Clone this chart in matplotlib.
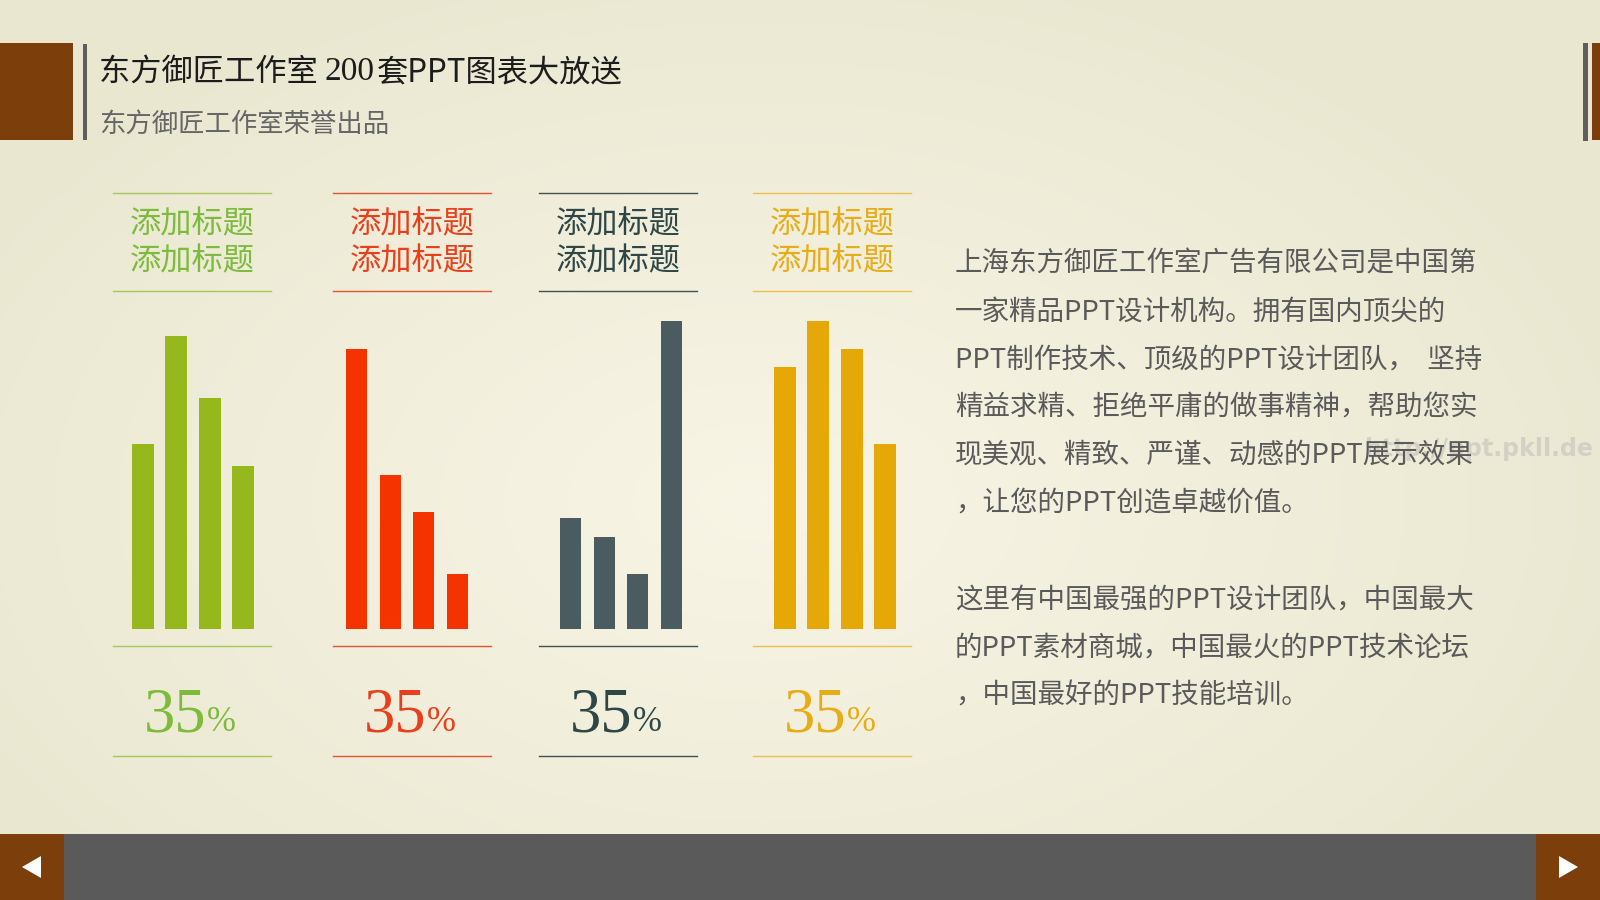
#!/usr/bin/env python3
"""Recreate the '东方御匠工作室' four-group bar slide as out.png."""

import numpy as np
import matplotlib
matplotlib.use("Agg")
import matplotlib.pyplot as plt
from matplotlib.patches import Rectangle, Polygon

plt.rcParams['font.family'] = ['Noto Sans CJK SC', 'DejaVu Sans']

# ---- data -------------------------------------------------------------
group_titles = ["添加标题", "添加标题", "添加标题", "添加标题"]
group_pcts = ["35", "35", "35", "35"]
green_vals = [60, 95, 75, 53]
red_vals = [91, 50, 38, 18]
slate_vals = [36, 30, 18, 100]
gold_vals = [85, 100, 91, 60]

title_parts = ["东方御匠工作室 ", "200", "套PPT图表大放送"]
subtitle = "东方御匠工作室荣誉出品"
para1 = [
    "上海东方御匠工作室广告有限公司是中国第",
    "一家精品PPT设计机构。拥有国内顶尖的",
    "PPT制作技术、顶级的PPT设计团队，  坚持",
    "精益求精、拒绝平庸的做事精神，帮助您实",
    "现美观、精致、严谨、动感的PPT展示效果",
    "，让您的PPT创造卓越价值。",
]
para2 = [
    "这里有中国最强的PPT设计团队，中国最大",
    "的PPT素材商城，中国最火的PPT技术论坛",
    "，中国最好的PPT技能培训。",
]

# ---- styling ----------------------------------------------------------
W, H = 1600, 900
BROWN = '#7c3e0b'
groups = [
    # values, bar colour, text colour, rule colour, left x of rules, bar shift, bar width
    (green_vals, '#97b81c', '#7dbb3c', '#a8c75a', 113, 1, 0.66),
    (red_vals, '#f43300', '#e8401c', '#e4552f', 333, -5, 0.62),
    (slate_vals, '#4b5c60', '#2e4746', '#3f5252', 539, 3, 0.63),
    (gold_vals, '#e5a806', '#e6ad18', '#ecc04e', 753, 3, 0.66),
]
GROUP_W = 158
BAR_PITCH = 33.5
BAR_BOTTOM, BAR_TOP = 629, 321

fig = plt.figure(figsize=(16, 9), dpi=100)
bg = fig.add_axes([0, 0, 1, 1])
bg.set_xlim(0, W)
bg.set_ylim(H, 0)
bg.axis('off')

# soft cream background, lighter in the middle
yy, xx = np.mgrid[0:H:4, 0:W:4]
r = np.sqrt(((xx - 760) / 900.0) ** 2 + ((yy - 500) / 560.0) ** 2)
r = np.clip(r, 0, 1)
c0 = np.array([248, 245, 230]) / 255.0
c1 = np.array([234, 231, 209]) / 255.0
img = c0[None, None, :] * (1 - r[..., None]) + c1[None, None, :] * r[..., None]
bg.imshow(img, extent=[0, W, H, 0], aspect='auto', zorder=0)

# header blocks
bg.add_patch(Rectangle((0, 43), 73, 97, facecolor=BROWN, zorder=1))
bg.add_patch(Rectangle((83, 44), 4, 96, facecolor='#5e5e5e', zorder=1))
bg.add_patch(Rectangle((1583, 43), 5, 98, facecolor='#5e5e5e', zorder=1))
bg.add_patch(Rectangle((1592, 43), 8, 97, facecolor=BROWN, zorder=1))

# title: the digits are set in a serif face, the rest in the CJK sans
renderer = fig.canvas.get_renderer()
x = 99
for k, part in enumerate(title_parts):
    fam = 'Liberation Serif' if part.isdigit() else ['Noto Sans CJK SC', 'DejaVu Sans']
    size = 24 if part.isdigit() else 22.5
    t = bg.text(x, 72, part, fontsize=size, color='#1c1c1c', va='center', ha='left',
                family=fam, zorder=2)
    bb = t.get_window_extent(renderer)
    x += bb.width + (2 if part.isdigit() else 0)
bg.text(99, 124, subtitle, fontsize=19, color='#666666', va='center', ha='left', zorder=2)

# footer bar with arrows
bg.add_patch(Rectangle((0, 834), W, 66, facecolor='#5a5a5a', zorder=1))
bg.add_patch(Rectangle((0, 834), 64, 66, facecolor=BROWN, zorder=2))
bg.add_patch(Rectangle((1536, 834), 64, 66, facecolor=BROWN, zorder=2))
bg.add_patch(Polygon([(22, 867), (41, 856), (41, 878)], facecolor='white', zorder=3))
bg.add_patch(Polygon([(1578, 867), (1559, 856), (1559, 878)], facecolor='white', zorder=3))

# four bar groups
for i, (vals, bar_c, txt_c, rule_c, x0, shift, bw) in enumerate(groups):
    cx = x0 + GROUP_W / 2
    for y in (193, 291, 646, 756):
        bg.plot([x0, x0 + GROUP_W], [y, y], color=rule_c, lw=1.0, zorder=2)
    bg.text(cx, 224, group_titles[i], fontsize=22.5, color=txt_c, ha='center', va='center', zorder=2)
    bg.text(cx, 261, group_titles[i], fontsize=22.5, color=txt_c, ha='center', va='center', zorder=2)
    bg.text(cx + 14, 731, group_pcts[i], fontsize=45, color=txt_c, ha='right', va='baseline',
            family='Liberation Serif', zorder=2)
    bg.text(cx + 15, 731, "%", fontsize=25, color=txt_c, ha='left', va='baseline',
            family='Liberation Serif', zorder=2)

    ax = fig.add_axes([(x0 + shift) / W, (H - BAR_BOTTOM) / H, GROUP_W / W,
                       (BAR_BOTTOM - BAR_TOP) / H])
    ax.patch.set_alpha(0)
    ax.axis('off')
    half = (GROUP_W / 2) / BAR_PITCH
    ax.set_xlim(1.5 - half, 1.5 + half)
    ax.set_ylim(0, 100)
    ax.bar(np.arange(len(vals)), vals, width=bw, color=bar_c, clip_on=False)

# watermark, partly hidden behind the paragraph as in the source slide
bg.text(1365, 449, "http://ppt.pkll.de", fontsize=17, color='#d2d1c6', fontweight='bold',
        family='DejaVu Sans', ha='left', va='center', zorder=1)

# right-hand paragraph
for k, line in enumerate(para1):
    bg.text(955, 264 + k * 47.8, line, fontsize=19.8, color='#5a5a5a', ha='left', va='center', zorder=2)
for k, line in enumerate(para2):
    bg.text(955, 600 + k * 47.8, line, fontsize=19.8, color='#5a5a5a', ha='left', va='center', zorder=2)

fig.savefig("out.png", dpi=100)
plt.close(fig)
